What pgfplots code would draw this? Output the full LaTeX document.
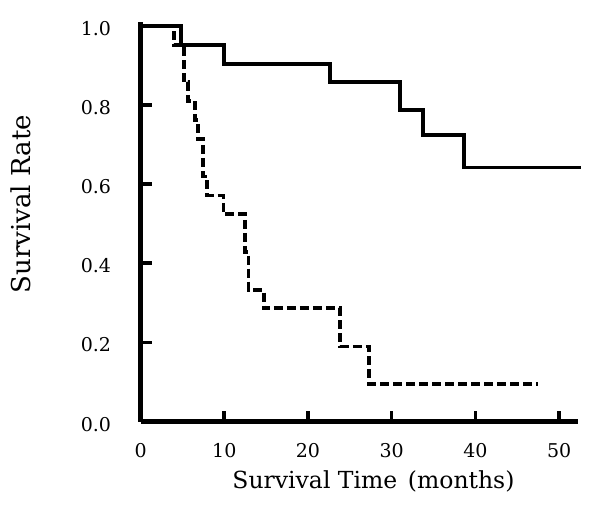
\documentclass[border=0pt]{standalone}
\usepackage{fontspec}
\setmainfont{DejaVu Serif}
\usepackage{pgfplots}
\pgfplotsset{compat=1.18}
\begin{document}
\begin{tikzpicture}
\begin{axis}[
  name=ax,
  scale only axis,
  width=437pt, height=400pt,
  xmin=0, xmax=52.2, ymin=0, ymax=1.01,
  axis lines=left,
  axis line style={-, line width=5pt},
  clip=false,
  xtick={0,10,20,30,40,50},
  ytick={0,0.2,0.4,0.6,0.8,1.0},
  tick align=inside,
  major tick length=11pt,
  tick style={line width=3.6pt, black},
  /pgf/number format/assume math mode=true,
  /pgf/number format/.cd, fixed, fixed zerofill, precision=1, /pgfplots/.cd,
  xticklabel={\pgfmathprintnumber[fixed,precision=0]{\tick}},
  ticklabel style={font=\fontsize{19}{22}\selectfont},
  xticklabel style={yshift=-18pt},
  yticklabel style={xshift=-26pt, yshift=-2.5pt},
  xlabel={Survival Time\hspace{0.45em}(months)},
  ylabel={Survival Rate},
  xlabel style={font=\fontsize{23.5}{27}\selectfont, at={(axis description cs:0.533,-0.1665)}, anchor=base},
  ylabel style={font=\fontsize{26}{30}\selectfont, at={(axis description cs:-0.2508,0.544)}, anchor=base},
]
\addplot[const plot, black, line width=3.8pt] coordinates {
  (0,1) (4.8,0.952) (10,0.904) (22.6,0.857) (31,0.786) (33.7,0.723) (38.6,0.642) (52.6,0.642)
};
\addplot[const plot, black, line width=3.8pt, dash pattern=on 9pt off 4pt] coordinates {
  (0,1) (4.0,0.952) (5.2,0.857) (5.7,0.810) (6.5,0.762) (6.9,0.714) (7.5,0.619) (7.9,0.571)
  (9.9,0.524) (12.5,0.429) (12.9,0.333) (14.7,0.286) (23.8,0.190) (27.3,0.095) (47.5,0.095)
};
\end{axis}
\pgfresetboundingbox
\useasboundingbox ([xshift=-140.6pt,yshift=-88.3pt]ax.south west) rectangle ([xshift=22.5pt,yshift=21.7pt]ax.north east);
\end{tikzpicture}
\end{document}
